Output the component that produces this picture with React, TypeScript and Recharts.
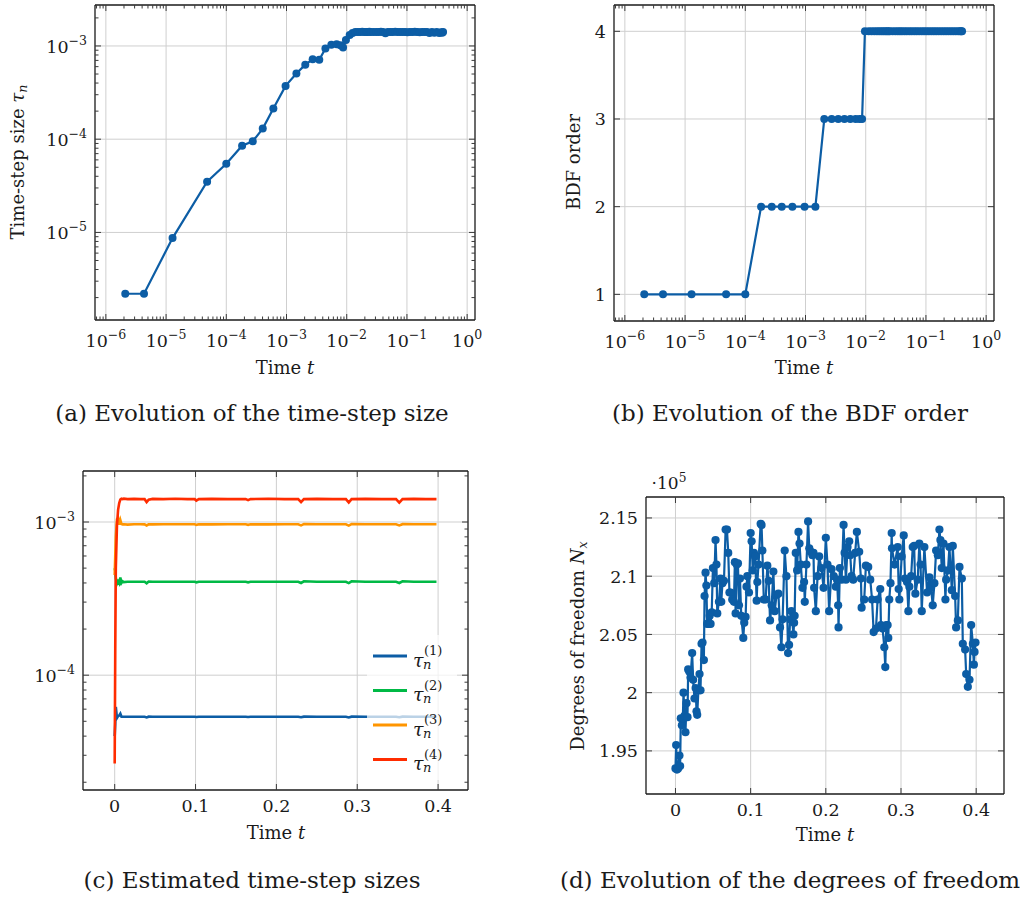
import { CartesianGrid, Legend, Line, LineChart, XAxis, YAxis } from "recharts";
import type { ReactNode } from "react";

const FONT = "'DejaVu Serif', 'Liberation Serif', serif";
const INK = "#1a1a1a";
const FRAME = "#1a1a1a";
const TICK_COLOR = "#3a3a3a";
const GRID_COLOR = "#cfcfcf";
const BLUE = "#0C5DA5";
const GREEN = "#00B945";
const ORANGE = "#FF9500";
const RED = "#FF2C00";

// ---- (a) + (b): accepted steps on a log time axis ----
const STEP_TIME = [
  2.1e-6, 4.3e-6, 1.28e-5, 4.8e-5, 1.0e-4, 1.83e-4, 2.75e-4, 4.03e-4, 6.05e-4, 9.65e-4,
  1.46e-3, 2.05e-3, 2.72e-3, 3.5e-3, 4.43e-3, 5.55e-3, 6.8e-3, 7.85e-3, 8.7e-3, 9.7e-3,
  0.0112, 0.0125, 0.0139, 0.0153, 0.0167, 0.0181, 0.0195, 0.021, 0.0224, 0.0238,
  0.0252, 0.028, 0.031, 0.034, 0.037, 0.04, 0.044, 0.048, 0.053, 0.058,
  0.064, 0.07, 0.077, 0.085, 0.093, 0.102, 0.112, 0.123, 0.135, 0.148,
  0.163, 0.179, 0.197, 0.216, 0.237, 0.26, 0.285, 0.313, 0.343, 0.37,
  0.385, 0.398,
];

const STEP_SIZE = [
  2.2e-6, 2.2e-6, 8.7e-6, 3.5e-5, 5.45e-5, 8.5e-5, 9.5e-5, 1.3e-4, 2.13e-4, 3.73e-4,
  5.06e-4, 6.3e-4, 7.2e-4, 7.1e-4, 9.4e-4, 1.03e-3, 1.04e-3, 1.02e-3, 9.6e-4, 1.16e-3,
  1.31e-3, 1.38e-3, 1.41e-3, 1.415e-3, 1.41e-3, 1.42e-3, 1.41e-3, 1.415e-3, 1.41e-3, 1.42e-3,
  1.41e-3, 1.415e-3, 1.41e-3, 1.41e-3, 1.42e-3, 1.41e-3, 1.37e-3, 1.41e-3, 1.415e-3, 1.41e-3,
  1.42e-3, 1.41e-3, 1.415e-3, 1.41e-3, 1.41e-3, 1.4e-3, 1.415e-3, 1.41e-3, 1.42e-3, 1.41e-3,
  1.4e-3, 1.415e-3, 1.41e-3, 1.41e-3, 1.38e-3, 1.41e-3, 1.39e-3, 1.41e-3, 1.38e-3, 1.4e-3,
  1.39e-3, 1.41e-3,
];

const BDF_ORDER = [
  1, 1, 1, 1, 1, 2, 2, 2, 2, 2,
  2, 3, 3, 3, 3, 3, 3, 3, 3, 4,
  4, 4, 4, 4, 4, 4, 4, 4, 4, 4,
  4, 4, 4, 4, 4, 4, 4, 4, 4, 4,
  4, 4, 4, 4, 4, 4, 4, 4, 4, 4,
  4, 4, 4, 4, 4, 4, 4, 4, 4, 4,
  4, 4,
];

// ---- (c): step-size estimates per order, values in units of 1e-3 ----
const EST_TIME = [
  0, 0.0007, 0.0014, 0.0028, 0.0042, 0.0056, 0.007, 0.0084, 0.0098, 0.0112,
  0.016, 0.024, 0.032, 0.037, 0.0395, 0.042, 0.047, 0.06, 0.075, 0.09,
  0.099, 0.101, 0.104, 0.12, 0.14, 0.162, 0.165, 0.168, 0.19, 0.21,
  0.227, 0.2305, 0.234, 0.25, 0.27, 0.286, 0.2895, 0.293, 0.31, 0.33,
  0.348, 0.352, 0.356, 0.37, 0.385, 0.398,
];
const EST_TAU1 = [
  0.04, 0.048, 0.062, 0.0525, 0.054, 0.0545, 0.056, 0.0535, 0.0535, 0.0535,
  0.0535, 0.0535, 0.0535, 0.0535, 0.053, 0.0536, 0.0535, 0.0535, 0.0535, 0.0535,
  0.0535, 0.0533, 0.0535, 0.0535, 0.0535, 0.0535, 0.0533, 0.0535, 0.0535, 0.0535,
  0.0535, 0.0531, 0.0536, 0.0535, 0.0535, 0.0535, 0.053, 0.0536, 0.0535, 0.0535,
  0.0535, 0.0531, 0.0536, 0.0535, 0.0535, 0.0535,
];
const EST_TAU2 = [
  0.5, 0.48, 0.43, 0.395, 0.41, 0.398, 0.435, 0.4, 0.41, 0.405,
  0.407, 0.407, 0.407, 0.407, 0.398, 0.409, 0.407, 0.407, 0.407, 0.407,
  0.407, 0.404, 0.407, 0.407, 0.407, 0.407, 0.404, 0.407, 0.407, 0.407,
  0.407, 0.4, 0.41, 0.407, 0.407, 0.407, 0.399, 0.41, 0.407, 0.407,
  0.407, 0.4, 0.41, 0.407, 0.407, 0.407,
];
const EST_TAU3 = [
  0.45, 0.6, 0.8, 1.04, 1.06, 0.96, 1.03, 0.97, 0.965, 0.966,
  0.962, 0.966, 0.966, 0.965, 0.95, 0.966, 0.965, 0.966, 0.967, 0.966,
  0.966, 0.958, 0.966, 0.965, 0.966, 0.966, 0.958, 0.966, 0.965, 0.966,
  0.966, 0.95, 0.968, 0.966, 0.966, 0.966, 0.948, 0.968, 0.966, 0.966,
  0.966, 0.95, 0.968, 0.966, 0.966, 0.966,
];
const EST_TAU4 = [
  0.0265, 0.15, 0.5, 0.95, 1.2, 1.33, 1.4, 1.42, 1.41, 1.42,
  1.41, 1.415, 1.41, 1.41, 1.35, 1.4, 1.415, 1.41, 1.42, 1.41,
  1.41, 1.38, 1.41, 1.415, 1.41, 1.41, 1.39, 1.41, 1.42, 1.41,
  1.41, 1.35, 1.41, 1.415, 1.41, 1.41, 1.34, 1.41, 1.415, 1.41,
  1.41, 1.34, 1.41, 1.415, 1.41, 1.41,
];

// ---- (d): degrees of freedom, values in units of 1e5 ----
const DOF_TIME = [
  0, 0.0009, 0.002, 0.0035, 0.0053, 0.0062, 0.0071, 0.0085, 0.0098, 0.0107,
  0.012, 0.0133, 0.0147, 0.016, 0.0169, 0.0185, 0.02, 0.0222, 0.0235, 0.0253,
  0.0268, 0.028, 0.0289, 0.0305, 0.032, 0.0333, 0.0347, 0.036, 0.0378, 0.0387,
  0.04, 0.0411, 0.0422, 0.0444, 0.0455, 0.0467, 0.0482, 0.0498, 0.0515, 0.0533,
  0.0545, 0.0556, 0.0578, 0.06, 0.0609, 0.0625, 0.0645, 0.0667, 0.0685, 0.0702,
  0.0718, 0.0733, 0.0755, 0.0778, 0.079, 0.08, 0.0815, 0.0831, 0.0845, 0.0858,
  0.0875, 0.0902, 0.0915, 0.0933, 0.0945, 0.0956, 0.0978, 0.1, 0.1013, 0.1028,
  0.1044, 0.106, 0.108, 0.1089, 0.1105, 0.1133, 0.1145, 0.1156, 0.1175, 0.12,
  0.1222, 0.124, 0.1258, 0.128, 0.1302, 0.132, 0.1345, 0.1369, 0.1391, 0.1409,
  0.1425, 0.1453, 0.1476, 0.1498, 0.1511, 0.1525, 0.1542, 0.1569, 0.1578, 0.1585,
  0.16, 0.1618, 0.1636, 0.165, 0.1667, 0.1689, 0.1711, 0.172, 0.1742, 0.1764,
  0.178, 0.18, 0.1822, 0.1836, 0.1844, 0.1867, 0.189, 0.1911, 0.1942, 0.197,
  0.2, 0.2022, 0.2044, 0.2076, 0.2105, 0.2133, 0.215, 0.2164, 0.2169, 0.2187,
  0.221, 0.2236, 0.225, 0.2267, 0.2289, 0.2311, 0.2325, 0.2342, 0.2364, 0.239,
  0.2413, 0.2444, 0.2467, 0.2476, 0.2511, 0.2533, 0.2564, 0.2591, 0.2615, 0.2636,
  0.2667, 0.2689, 0.2724, 0.2733, 0.2755, 0.2778, 0.2791, 0.2805, 0.2822, 0.2831,
  0.2844, 0.286, 0.2876, 0.288, 0.2915, 0.2956, 0.2969, 0.2978, 0.3009, 0.3036,
  0.3053, 0.308, 0.3098, 0.3111, 0.3135, 0.3156, 0.3175, 0.3191, 0.3222, 0.3244,
  0.326, 0.3276, 0.3311, 0.3347, 0.3378, 0.34, 0.3422, 0.3444, 0.3467, 0.349,
  0.3511, 0.3524, 0.3542, 0.3565, 0.3591, 0.36, 0.3625, 0.3644, 0.3676, 0.3689,
  0.372, 0.3733, 0.3756, 0.3778, 0.3809, 0.3822, 0.3853, 0.3867, 0.3889, 0.3911,
  0.3933, 0.3956, 0.3969, 0.3978, 0.3991,
];
const DOF_COUNT = [
  1.935, 1.955, 1.934, 1.935, 1.946, 1.937, 1.978, 1.972, 1.978, 2.0,
  1.98, 1.966, 1.991, 1.979, 2.02, 2.018, 2.013, 2.034, 2.011, 1.995,
  2.004, 1.984, 1.981, 2.002, 2.016, 2.002, 2.042, 2.043, 2.028, 2.083,
  2.103, 2.092, 2.059, 2.059, 2.066, 2.059, 2.069, 2.107, 2.094, 2.131,
  2.11, 2.068, 2.078, 2.098, 2.078, 2.094, 2.096, 2.14, 2.14, 2.12,
  2.086, 2.086, 2.08, 2.078, 2.112, 2.068, 2.11, 2.111, 2.075, 2.098,
  2.066, 2.047, 2.06, 2.065, 2.091, 2.1, 2.086, 2.137, 2.13, 2.105,
  2.12, 2.117, 2.079, 2.095, 2.11, 2.145, 2.144, 2.122, 2.08, 2.08,
  2.109, 2.096, 2.062, 2.075, 2.104, 2.07, 2.084, 2.085, 2.056, 2.039,
  2.063, 2.122, 2.1, 2.034, 2.041, 2.063, 2.07, 2.05, 2.06, 2.066,
  2.12, 2.105, 2.138, 2.128, 2.11, 2.09, 2.095, 2.078, 2.11, 2.147,
  2.124, 2.121, 2.118, 2.12, 2.09, 2.07, 2.1, 2.117, 2.107, 2.09,
  2.133, 2.11, 2.07, 2.106, 2.1, 2.091, 2.097, 2.075, 2.056, 2.107,
  2.097, 2.144, 2.12, 2.097, 2.125, 2.13, 2.118, 2.1, 2.097, 2.12,
  2.138, 2.121, 2.098, 2.073, 2.08, 2.109, 2.108, 2.097, 2.08, 2.052,
  2.055, 2.08, 2.089, 2.058, 2.055, 2.039, 2.022, 2.058, 2.058, 2.047,
  2.08, 2.094, 2.137, 2.124, 2.11, 2.125, 2.089, 2.08, 2.117, 2.135,
  2.098, 2.095, 2.07, 2.091, 2.1, 2.125, 2.126, 2.085, 2.097, 2.128,
  2.11, 2.07, 2.125, 2.086, 2.099, 2.09, 2.075, 2.094, 2.122, 2.118,
  2.14, 2.131, 2.107, 2.128, 2.08, 2.097, 2.105, 2.125, 2.088, 2.126,
  2.083, 2.056, 2.062, 2.108, 2.098, 2.042, 2.037, 2.016, 2.005, 2.011,
  2.058, 2.042, 2.024, 2.035, 2.043,
];

// axis ranges and major ticks
const LOG_TIME_DOMAIN = [6.6e-7, 1.35];
const LOG_TIME_MAJOR = [1e-6, 1e-5, 1e-4, 1e-3, 1e-2, 1e-1, 1];
const STEP_DOMAIN = [1.15e-6, 2.75e-3];
const STEP_MAJOR = [1e-5, 1e-4, 1e-3];
const ORDER_DOMAIN = [0.696, 4.3];
const ORDER_TICKS = [1, 2, 3, 4];
const LIN_TIME_DOMAIN = [-0.0392, 0.437];
const LIN_TIME_TICKS = [0, 0.1, 0.2, 0.3, 0.4];
const EST_DOMAIN = [1.78e-5, 2.153e-3];
const EST_MAJOR = [1e-4, 1e-3];
const DOF_DOMAIN = [1.913, 2.168];
const DOF_TICKS = [1.95, 2, 2.05, 2.1, 2.15];

// every mantissa 1..9 of each decade that falls inside the range
function logTicks(lo: number, hi: number): number[] {
  const out: number[] = [];
  for (let e = Math.floor(Math.log10(lo)); e <= Math.ceil(Math.log10(hi)); e++) {
    for (let m = 1; m <= 9; m++) {
      const v = m * Math.pow(10, e);
      if (v >= lo && v <= hi) out.push(v);
    }
  }
  return out;
}

function isDecade(v: number) {
  const e = Math.log10(v);
  return Math.abs(e - Math.round(e)) < 1e-6;
}

type Side = "bottom" | "top" | "left" | "right";

function PowerLabel({ x, y, value, anchor }: { x: number; y: number; value: number; anchor: "middle" | "end" }) {
  const exp = Math.round(Math.log10(value));
  return (
    <text x={x} y={y} textAnchor={anchor} fontFamily={FONT} fontSize={17.5} fill={INK}>
      10
      <tspan dy={-8} fontSize={12.5}>
        {exp < 0 ? `\u2212${-exp}` : String(exp)}
      </tspan>
    </text>
  );
}

// inward ticks like pgfplots, labels only on the bottom/left axes
function makeTick(side: Side, kind: "log" | "linear", labelled: boolean) {
  return function Tick(props: any) {
    const { x, y, payload } = props;
    const value = Number(payload.value);
    const major = kind === "linear" || isDecade(value);
    const len = major ? 6 : 3.5;
    const x2 = side === "left" ? x + len : side === "right" ? x - len : x;
    const y2 = side === "bottom" ? y - len : side === "top" ? y + len : y;
    let label: ReactNode = null;
    if (labelled && major) {
      if (kind === "log") {
        label =
          side === "bottom" ? (
            <PowerLabel x={x} y={y + 27} value={value} anchor="middle" />
          ) : (
            <PowerLabel x={x - 8} y={y + 7} value={value} anchor="end" />
          );
      } else {
        label = (
          <text
            x={side === "bottom" ? x : x - 8}
            y={side === "bottom" ? y + 21.5 : y + 6.5}
            textAnchor={side === "bottom" ? "middle" : "end"}
            fontFamily={FONT}
            fontSize={17.5}
            fill={INK}
          >
            {String(value)}
          </text>
        );
      }
    }
    return (
      <g>
        <line x1={x} y1={y} x2={x2} y2={y2} stroke={TICK_COLOR} strokeWidth={1} />
        {label}
      </g>
    );
  };
}

const frameLine = { stroke: FRAME, strokeWidth: 1.3 };
const axisBase = { tickSize: 0, tickMargin: 0, tickLine: false, interval: 0 as const, axisLine: frameLine };

// axes are 1px thick (recharts skips empty axes); margins are reduced by that 1px
function xAxes(kind: "log" | "linear", domain: number[], ticks: number[]) {
  const common = {
    ...axisBase,
    dataKey: "t",
    type: "number" as const,
    scale: kind === "log" ? ("log" as const) : ("linear" as const),
    domain,
    allowDataOverflow: true,
    ticks,
    height: 1,
  };
  return [
    <XAxis key="xb" xAxisId={0} {...common} tick={makeTick("bottom", kind, true)} />,
    <XAxis key="xt" xAxisId="top" orientation="top" {...common} tick={makeTick("top", kind, false)} />,
  ];
}

function yAxes(kind: "log" | "linear", domain: number[], ticks: number[]) {
  const common = {
    ...axisBase,
    type: "number" as const,
    scale: kind === "log" ? ("log" as const) : ("linear" as const),
    domain,
    allowDataOverflow: true,
    ticks,
    width: 1,
  };
  return [
    <YAxis key="yl" yAxisId={0} {...common} tick={makeTick("left", kind, true)} />,
    <YAxis key="yr" yAxisId="right" orientation="right" {...common} tick={makeTick("right", kind, false)} />,
  ];
}

const markDot = { r: 4, fill: BLUE, stroke: BLUE, strokeWidth: 0 };

function StepSizeChart() {
  const rows = STEP_TIME.map((t, i) => ({ t, tau: STEP_SIZE[i] }));
  return (
    <LineChart width={500} height={400} data={rows} margin={{ top: 4, left: 94, right: 24, bottom: 79 }}>
      <CartesianGrid stroke={GRID_COLOR} verticalValues={LOG_TIME_MAJOR} horizontalValues={STEP_MAJOR} />
      {xAxes("log", LOG_TIME_DOMAIN, logTicks(LOG_TIME_DOMAIN[0], LOG_TIME_DOMAIN[1]))}
      {yAxes("log", STEP_DOMAIN, logTicks(STEP_DOMAIN[0], STEP_DOMAIN[1]))}
      <Line dataKey="tau" stroke={BLUE} strokeWidth={2.2} dot={markDot} activeDot={false} isAnimationActive={false} />
    </LineChart>
  );
}

function OrderChart() {
  const rows = STEP_TIME.map((t, i) => ({ t, order: BDF_ORDER[i] }));
  return (
    <LineChart width={520} height={400} data={rows} margin={{ top: 4, left: 113, right: 25, bottom: 78 }}>
      <CartesianGrid stroke={GRID_COLOR} verticalValues={LOG_TIME_MAJOR} horizontalValues={ORDER_TICKS} />
      {xAxes("log", LOG_TIME_DOMAIN, logTicks(LOG_TIME_DOMAIN[0], LOG_TIME_DOMAIN[1]))}
      {yAxes("linear", ORDER_DOMAIN, ORDER_TICKS)}
      <Line dataKey="order" stroke={BLUE} strokeWidth={2.2} dot={markDot} activeDot={false} isAnimationActive={false} />
    </LineChart>
  );
}

function TauLegend({ payload }: { payload?: Array<{ value: string; color: string }> }) {
  const rows = payload ?? [];
  return (
    <svg width={90} height={145} style={{ display: "block" }}>
      {rows.map((entry, i) => {
        const cy = 21 + i * 34.5;
        return (
          <g key={entry.value}>
            <line x1={6} x2={40} y1={cy} y2={cy} stroke={entry.color} strokeWidth={2.8} />
            <text x={46} y={cy + 10.5} fontFamily={FONT} fontStyle="italic" fontSize={19} fill={INK}>
              τ
            </text>
            <text x={57} y={cy - 1} fontFamily={FONT} fontSize={13} fill={INK}>
              ({entry.value})
            </text>
            <text x={56} y={cy + 12.5} fontFamily={FONT} fontStyle="italic" fontSize={13} fill={INK}>
              n
            </text>
          </g>
        );
      })}
    </svg>
  );
}

function EstimateChart() {
  const rows = EST_TIME.map((t, i) => ({
    t,
    tau1: EST_TAU1[i] * 1e-3,
    tau2: EST_TAU2[i] * 1e-3,
    tau3: EST_TAU3[i] * 1e-3,
    tau4: EST_TAU4[i] * 1e-3,
  }));
  const series = [
    { key: "tau1", name: "1", color: BLUE },
    { key: "tau2", name: "2", color: GREEN },
    { key: "tau3", name: "3", color: ORANGE },
    { key: "tau4", name: "4", color: RED },
  ];
  return (
    <LineChart width={500} height={420} data={rows} margin={{ top: 20, left: 82, right: 31, bottom: 79 }}>
      <CartesianGrid stroke={GRID_COLOR} verticalValues={LIN_TIME_TICKS} horizontalValues={EST_MAJOR} />
      {xAxes("linear", LIN_TIME_DOMAIN, LIN_TIME_TICKS)}
      {yAxes("log", EST_DOMAIN, logTicks(EST_DOMAIN[0], EST_DOMAIN[1]))}
      {series.map((s) => (
        <Line
          key={s.key}
          dataKey={s.key}
          name={s.name}
          stroke={s.color}
          strokeWidth={2.6}
          dot={false}
          activeDot={false}
          isAnimationActive={false}
        />
      ))}
      <Legend
        layout="vertical"
        align="center"
        verticalAlign="middle"
        content={(props: any) => <TauLegend payload={props.payload} />}
        wrapperStyle={{ left: 367, top: 185, width: 90, height: 145, background: "rgba(255,255,255,0.72)" }}
      />
    </LineChart>
  );
}

function DofChart() {
  const rows = DOF_TIME.map((t, i) => ({ t, n: DOF_COUNT[i] }));
  return (
    <LineChart width={520} height={420} data={rows} margin={{ top: 46, left: 145, right: 15, bottom: 75 }}>
      <CartesianGrid stroke={GRID_COLOR} verticalValues={LIN_TIME_TICKS} horizontalValues={DOF_TICKS} />
      {xAxes("linear", LIN_TIME_DOMAIN, LIN_TIME_TICKS)}
      {yAxes("linear", DOF_DOMAIN, DOF_TICKS)}
      <Line dataKey="n" stroke={BLUE} strokeWidth={2.2} dot={{ ...markDot, r: 4.1 }} activeDot={false} isAnimationActive={false} />
    </LineChart>
  );
}

function Text({ x, y, size, rotate, children }: { x: number; y: number; size: number; rotate?: boolean; children: ReactNode }) {
  return (
    <div
      style={{
        position: "absolute",
        left: x,
        top: y,
        transform: `translate(-50%, -50%)${rotate ? " rotate(-90deg)" : ""}`,
        fontSize: size,
        lineHeight: 1,
        whiteSpace: "nowrap",
      }}
    >
      {children}
    </div>
  );
}

const sub = { fontSize: "0.7em", verticalAlign: "-0.25em", lineHeight: 0 } as const;

export default function App() {
  return (
    <div
      style={{
        position: "absolute",
        left: 0,
        top: 0,
        width: 1020,
        height: 898,
        background: "#ffffff",
        fontFamily: FONT,
        color: INK,
        overflow: "hidden",
      }}
    >
      <div style={{ position: "absolute", left: 0, top: 0 }}>
        <StepSizeChart />
      </div>
      <div style={{ position: "absolute", left: 500, top: 0 }}>
        <OrderChart />
      </div>
      <div style={{ position: "absolute", left: 0, top: 450 }}>
        <EstimateChart />
      </div>
      <div style={{ position: "absolute", left: 500, top: 450 }}>
        <DofChart />
      </div>

      <Text x={18} y={162} size={18} rotate>
        Time-step size <i>τ</i>
        <i style={sub}>n</i>
      </Text>
      <Text x={285} y={368} size={18}>
        Time <i>t</i>
      </Text>
      <Text x={252} y={413} size={23}>
        (a) Evolution of the time-step size
      </Text>

      <Text x={574} y={162} size={18} rotate>
        BDF order
      </Text>
      <Text x={804} y={368} size={18}>
        Time <i>t</i>
      </Text>
      <Text x={790} y={413} size={23}>
        (b) Evolution of the BDF order
      </Text>

      <Text x={276} y={833} size={18}>
        Time <i>t</i>
      </Text>
      <Text x={252} y={880} size={23}>
        (c) Estimated time-step sizes
      </Text>

      <Text x={669} y={483} size={17}>
        ·10
        <span style={{ fontSize: "0.72em", verticalAlign: "0.55em", lineHeight: 0 }}>5</span>
      </Text>
      <Text x={578} y={646} size={18} rotate>
        Degrees of freedom <i>N</i>
        <i style={sub}>x</i>
      </Text>
      <Text x={825} y={835} size={18}>
        Time <i>t</i>
      </Text>
      <Text x={790} y={880} size={23}>
        (d) Evolution of the degrees of freedom
      </Text>
    </div>
  );
}
